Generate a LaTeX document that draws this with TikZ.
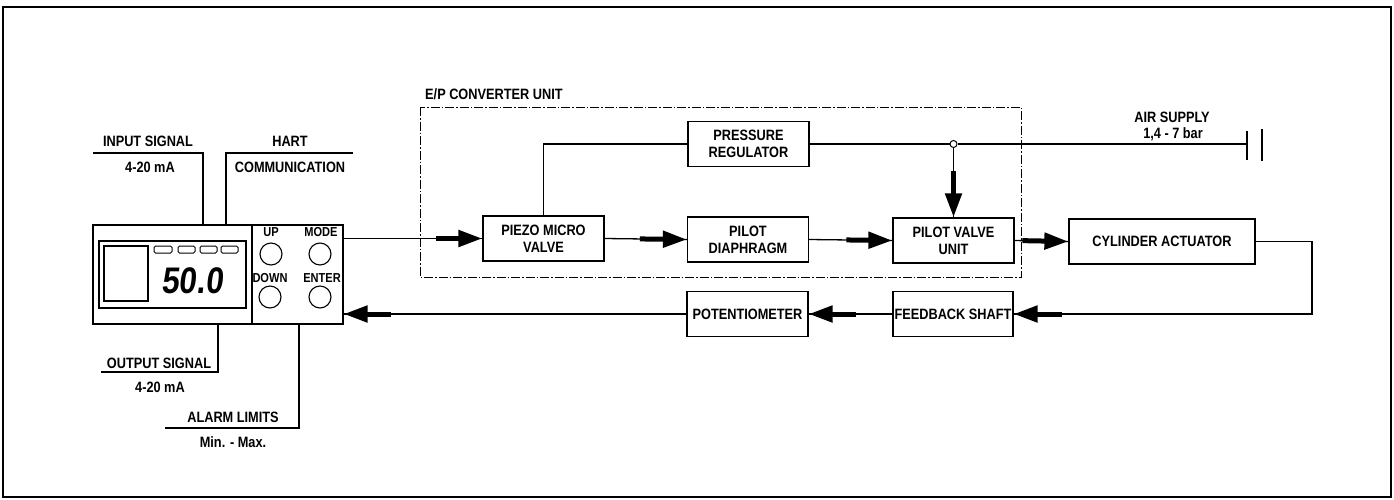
\documentclass[tikz,border=0pt]{standalone}
\usepackage{fontspec}
\setmainfont{Liberation Sans}[FakeStretch=0.85]
\newfontfamily\segfont{Liberation Sans}[FakeStretch=0.85,FakeSlant=0.12]
\usetikzlibrary{arrows.meta,calc}
\begin{document}
\begin{tikzpicture}[x=1pt,y=-1pt,
  thin line/.style={line width=1.3pt},
  lbl/.style={font=\bfseries\fontsize{15}{17}\selectfont, inner sep=0pt, align=center},
  small/.style={font=\bfseries\fontsize{13}{14}\selectfont, inner sep=0pt},
  blk/.style={draw, line width=1.3pt, minimum width=121pt, minimum height=45pt, inner sep=1pt,
     font=\bfseries\fontsize{15}{17}\selectfont, align=center},
  fat/.style={line width=5pt, -{Triangle[length=24pt,width=16pt]}},
  btn/.style={draw, circle, line width=1.1pt, minimum size=22pt, inner sep=0pt},
  epbox/.style={line width=1pt, dash pattern=on 9pt off 2pt on 1.5pt off 2pt}
]
\useasboundingbox (0,0) rectangle (1394,499);
% outer frame
\draw[line width=2.5pt] (3,7) rectangle (1391,497);

% ---------- device ----------
\node[draw, line width=1.3pt, minimum width=250pt, minimum height=99pt, inner sep=0pt] (dev) at (218,274.5) {};
\draw[thin line] (252,225) -- (252,324);
\draw[thin line] (99,241) rectangle (246,308);
\draw[thin line] (104,246) rectangle (148,301);
\foreach \a/\b in {154/172,178/195,200/217,221/238}
  \draw[line width=1pt, rounded corners=1.5pt] (\a,246) rectangle (\b,253);
\node[font=\segfont\bfseries\fontsize{37}{37}\selectfont, inner sep=0pt] (disp) at (192,281) {50.0};
\node[btn] (up) at (271,254) {};
\node[btn] (mode) at (320,254) {};
\node[btn] (down) at (270,297) {};
\node[btn] (enter) at (320,297) {};
\node[small] (upl) at (271,232) {UP};
\node[small] (model) at (321,232) {MODE};
\node[small] (downl) at (270,278) {DOWN};
\node[small] (enterl) at (322,278) {ENTER};

% device signal lines
\coordinate (inA) at (93,153);   \coordinate (inB) at (203,225);
\coordinate (hA) at (353,153);   \coordinate (hB) at (226,225);
\coordinate (oA) at (101,372);   \coordinate (oB) at (218,324);
\coordinate (aA) at (165,428);   \coordinate (aB) at (299,324);
\draw[thin line] (inA) -| (inB);
\draw[thin line] (hA) -| (hB);
\draw[thin line] (oA) -| (oB);
\draw[thin line] (aA) -| (aB);
\node[lbl] (t1) at (148,141) {INPUT SIGNAL};
\node[lbl] (t2) at (150,167) {4-20 mA};
\node[lbl] (t3) at (290,141) {HART};
\node[lbl] (t4) at (290,167) {COMMUNICATION};
\node[lbl] (t5) at (159,363) {OUTPUT SIGNAL};
\node[lbl] (t6) at (160,387) {4-20 mA};
\node[lbl] (t7) at (233,417) {ALARM LIMITS};
\node[lbl] (t8) at (233,442) {Min. - Max.};

% ---------- E/P converter ----------
\draw[epbox] (420,107) rectangle (1021,277);
\node[lbl, anchor=west] (ep) at (425,94) {E/P CONVERTER UNIT};

\node[blk] (piezo) at (543.5,238.5) {PIEZO MICRO\\VALVE};
\node[blk] (reg) at (748.5,144) {PRESSURE\\REGULATOR};
\node[blk] (dia) at (748,239.5) {PILOT\\DIAPHRAGM};
\node[blk] (pv) at (953.5,240.5) {PILOT VALVE\\UNIT};
\node[blk, minimum width=186pt] (cyl) at (1162,241.5) {CYLINDER ACTUATOR};
\node[blk] (pot) at (747.5,314) {POTENTIOMETER};
\node[blk, minimum width=120pt, inner sep=0pt] (fb) at (953,314) {FEEDBACK SHAFT};

% air supply
\node[draw, circle, line width=1pt, minimum size=7pt, inner sep=0pt] (j) at (pv.north |- reg.east) {};
\coordinate (air) at (1247,144);
\coordinate (airA1) at (1247,131); \coordinate (airA2) at (1247,160);
\coordinate (airB1) at (1262,129); \coordinate (airB2) at (1262,161);
\draw[thin line] (airA1) -- (airA2);
\draw[thin line] (airB1) -- (airB2);
\node[lbl] (as1) at (1172,117) {AIR SUPPLY};
\node[lbl] (as2) at (1173,134) {1,4 - 7 bar};

% connectors
\draw[thin line] (piezo.north) |- (reg.west);
\draw[thin line] (reg.east) -- (j.west);
\draw[thin line] (j.east) -- (air);
\draw[thin line] (j.south) -- (pv.north);
\draw[fat] ($(pv.north)!46pt!(j.south)$) -- (pv.north);

\coordinate (devM) at (piezo.west -| dev.east);
\draw[thin line] (devM) -- (piezo.west);
\draw[fat] ($(piezo.west)!46pt!(devM)$) -- (piezo.west);

\draw[thin line] (piezo.east) -- (dia.west);
\draw[fat] ($(dia.west)!47pt!(piezo.east)$) -- (dia.west);

\draw[thin line] (dia.east) -- (pv.west);
\draw[fat] ($(pv.west)!46pt!(dia.east)$) -- (pv.west);

\draw[thin line] (pv.east) -- (cyl.west);
\draw[fat] ($(cyl.west)!46pt!(pv.east)$) -- (cyl.west);

\coordinate (cr) at (1312,241.5);
\draw[thin line] (cyl.east) -- (cr) |- (fb.east);
\draw[fat] ($(fb.east)!48pt!(cr |- fb.east)$) -- (fb.east);

\draw[thin line] (fb.west) -- (pot.east);
\draw[fat] ($(pot.east)!47pt!(fb.west)$) -- (pot.east);

\coordinate (devF) at (pot.west -| dev.east);
\draw[thin line] (pot.west) -- (devF);
\draw[fat] ($(devF)!47pt!(pot.west)$) -- (devF);
\end{tikzpicture}
\end{document}
